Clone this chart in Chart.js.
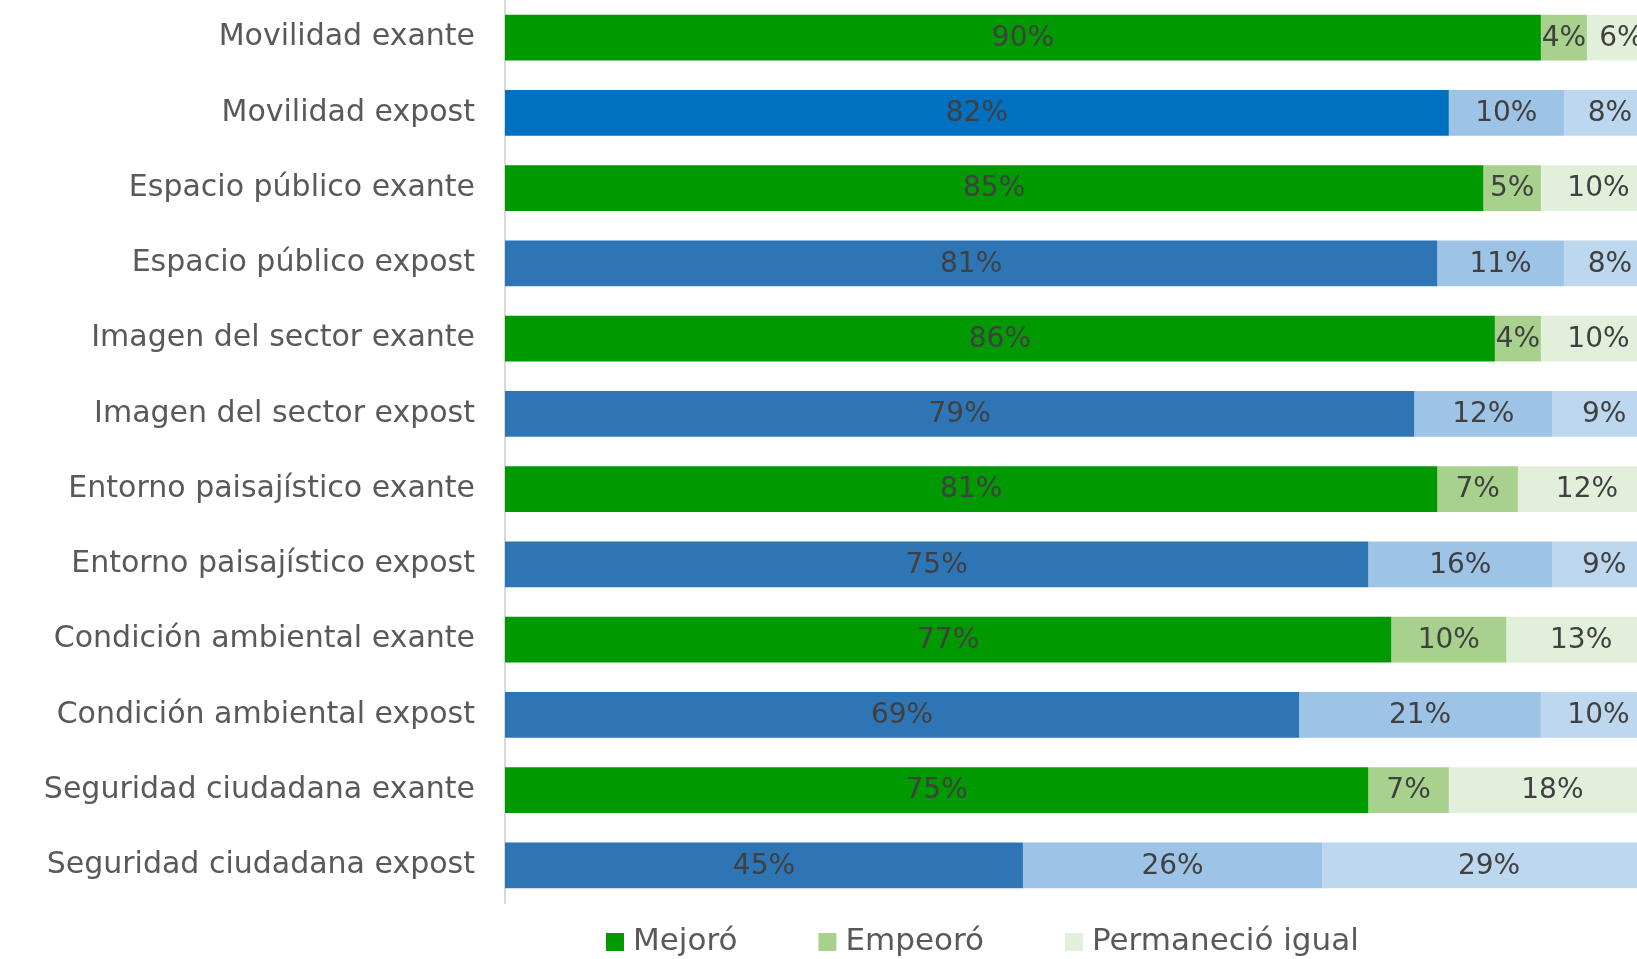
<!DOCTYPE html>
<html>
<head>
<meta charset="utf-8">
<script src="https://cdn.jsdelivr.net/npm/chart.js@4"></script>
<style>
  html, body { margin: 0; padding: 0; background: #fff; }
  #wrap { width: 1637px; height: 959px; }
</style>
</head>
<body>
<div id="wrap"><canvas id="myChart"></canvas></div>
<script>
const categories = [
  "Movilidad exante", "Movilidad expost",
  "Espacio público exante", "Espacio público expost",
  "Imagen del sector exante", "Imagen del sector expost",
  "Entorno paisajístico exante", "Entorno paisajístico expost",
  "Condición ambiental exante", "Condición ambiental expost",
  "Seguridad ciudadana exante", "Seguridad ciudadana expost"
];
const seriesNames = ["Mejoró", "Empeoró", "Permaneció igual"];
const mejoro     = [90, 82, 85, 81, 86, 79, 81, 75, 77, 69, 75, 45];
const empeoro    = [4, 10, 5, 11, 4, 12, 7, 16, 10, 21, 7, 26];
const permanecio = [6, 8, 10, 8, 10, 9, 12, 9, 13, 10, 18, 29];

const FONT = "'DejaVu Sans', sans-serif";

// exante rows green, expost rows blue
const greens = ["#009900", "#A9D18E", "#E2EFDA"];
const blues = ["#2E75B6", "#9DC3E6", "#BDD7EE"];
function barColor(serie) {
  return function (ctx) {
    if (ctx.type !== "data") return greens[serie];
    const i = ctx.dataIndex;
    if (serie === 0 && i === 1) return "#0070C0";
    return categories[i].endsWith("exante") ? greens[serie] : blues[serie];
  };
}

// percent labels in the middle of each segment
const valueLabels = {
  id: "valueLabels",
  afterDatasetsDraw(chart) {
    const ctx = chart.ctx;
    ctx.save();
    ctx.font = "28px " + FONT;
    ctx.fillStyle = "#404040";
    ctx.textAlign = "center";
    ctx.textBaseline = "middle";
    chart.data.datasets.forEach((ds, d) => {
      chart.getDatasetMeta(d).data.forEach((bar, i) => {
        ctx.fillText(ds.data[i] + "%", (bar.x + bar.base) / 2, bar.y + 1);
      });
    });
    ctx.restore();
  }
};

// legend drawn under the plot
const bottomLegend = {
  id: "bottomLegend",
  afterDraw(chart) {
    const ctx = chart.ctx;
    ctx.save();
    ctx.font = "31px " + FONT;
    ctx.textBaseline = "middle";
    let x = 606;
    const y = 942;
    seriesNames.forEach((name, s) => {
      ctx.fillStyle = greens[s];
      ctx.fillRect(x, y - 9, 18, 18);
      ctx.fillStyle = "#595959";
      ctx.fillText(name, x + 27, y);
      x += 27 + ctx.measureText(name).width + 81;
    });
    ctx.restore();
  }
};

new Chart(document.getElementById("myChart"), {
  type: "bar",
  data: {
    labels: categories,
    datasets: [
      { label: seriesNames[0], data: mejoro, backgroundColor: barColor(0) },
      { label: seriesNames[1], data: empeoro, backgroundColor: barColor(1) },
      { label: seriesNames[2], data: permanecio, backgroundColor: barColor(2) }
    ]
  },
  options: {
    indexAxis: "y",
    responsive: true,
    maintainAspectRatio: false,
    animation: false,
    barPercentage: 0.61,
    categoryPercentage: 1,
    layout: { padding: { top: 0, right: 0, bottom: 56, left: 0 } },
    scales: {
      x: {
        stacked: true,
        min: 0,
        max: 98.35,   // 100% runs past the right edge in the original
        display: false
      },
      y: {
        stacked: true,
        grid: { display: false, drawTicks: false },
        border: { display: true, color: "#d9d9d9", width: 2 },
        ticks: {
          font: { family: FONT, size: 30 },
          color: "#595959",
          padding: 30
        },
        afterFit(scale) {
          scale.width = 505;
          scale.paddingTop = 0;
          scale.paddingBottom = 0;
        }
      }
    },
    plugins: {
      legend: { display: false },
      tooltip: { enabled: false }
    }
  },
  plugins: [valueLabels, bottomLegend]
});
</script>
</body>
</html>
